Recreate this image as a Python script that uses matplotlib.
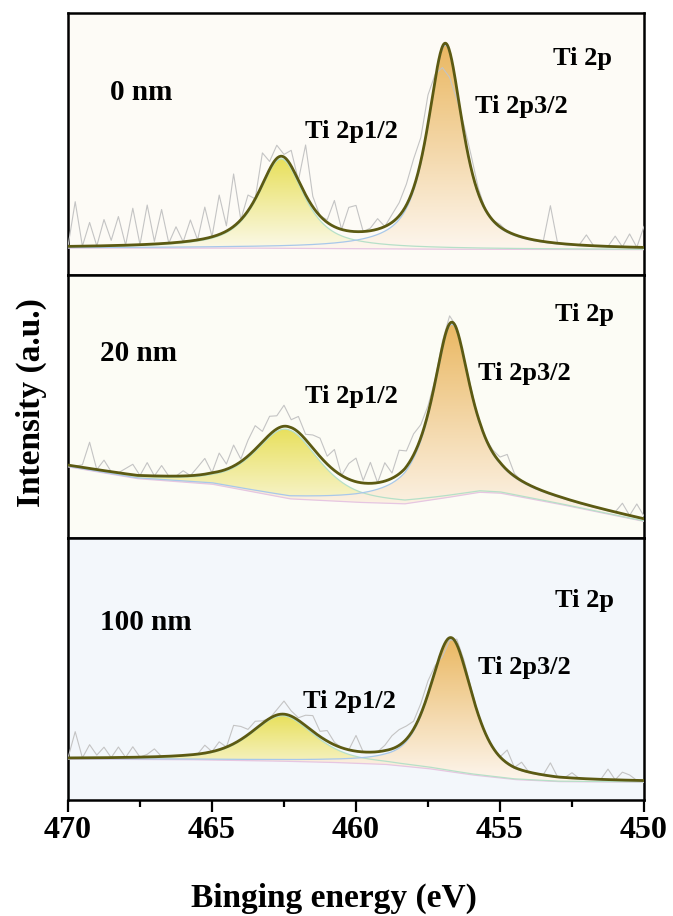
import numpy as np
import matplotlib
matplotlib.use("Agg")
import matplotlib.pyplot as plt
from matplotlib.ticker import MultipleLocator

plt.rcParams['font.family'] = 'Liberation Serif'
plt.rcParams['font.weight'] = 'bold'

# energy window and the 0.25 eV grid of the measured spectra
e_start, e_stop, e_step = 470.0, 450.0, 0.25

panel_names = ["0 nm", "20 nm", "100 nm"]
panel_colors = ["#fdfbf6", "#fcfcf5", "#f3f7fb"]

# fitted peaks per panel: centre (eV), height, FWHM (eV), lorentz fraction
p12_center = [462.60, 462.40, 462.55]
p12_height = [34.1, 26.3, 17.3]
p12_fwhm = [1.9, 2.6, 2.6]
p12_eta = [0.8, 0.6, 0.6]

p32_center = [456.90, 456.68, 456.70]
p32_height = [77.8, 65.8, 50.7]
p32_fwhm = [1.46, 1.6, 1.74]
p32_eta = [0.8, 0.9, 0.6]

# background read at a few energies
bg1_e = [470, 464, 461, 458, 455, 450]
bg1_v = [10.4, 10.4, 10.2, 10.0, 9.9, 9.8]
bg2_e = [470, 467.6, 465, 462.3, 460, 458.3, 457.0, 455.7, 455.0, 453.0, 450.0]
bg2_v = [27.0, 22.5, 20.4, 14.8, 13.5, 12.9, 15.0, 17.3, 17.0, 12.9, 6.2]
bg3_e = [470, 466, 463, 461, 459, 457.5, 456, 454.5, 453, 450]
bg3_v = [15.6, 15.4, 14.9, 14.4, 13.6, 12.0, 9.6, 7.8, 7.0, 6.8]

# raw counts minus fit, 470 -> 450 eV every 0.25 eV
raw1_res = [0, 17, 0, 9, 0, 10, 2, 11, 0, 14, 0, 15, 1, 13, 0, 6, 0, 8, 0, 12,
            0, 15, 2, 20, 0, 6, 0, 12, 3, 5, 1, 6, 0, 19, 4, 0, 1, 10, 0, 9,
            10, 0, 1, 4, 0, 3, 5, 8, 11, 9, 11, 2, -8, -10, -4, 3, 5, 2, 0, 0,
            1, 0, 0, 0, 0, 0, 0, 14, 0, 0, 0, 0, 4, 0, 0, 0, 4, 0, 5, 0, 8]
raw2_res = [0, 0, 1, 10, 0, 4, 0, 0, 2, 4, 0, 5, 0, 4, 0, 0, 2, 0, 3, 6,
            0, 7, 2, 8, 1, 6, 9, 4, 7, 5, 8, 3, 6, 2, 5, 7, 3, 8, 0, 6,
            9, 1, 8, 0, 7, 2, 9, 6, 8, 5, 3, 1, 2, 3, 1, 0, 1, -1, 0, 1,
            2, 6, 1, 0, 0, 0, 0, 0, 0, 0, 0, 0, 0, 0, 0, 0, 0, 4, 0, 5, 1]
raw3_res = [0, 10, 0, 5, 1, 4, 0, 4, 0, 4, 0, 1, 3, 0, 0, 0, 0, 0, 0, 3,
            0, 3, 0, 7, 5, 2, 3, 1, 0, 2, 5, 2, 1, 4, 6, 2, 4, 1, 0, 0,
            6, 0, 0, 0, 2, 5, 6, 5, 3, 4, 5, 2, -3, -1, 2, 2, 1, 0, 0, 0,
            0, 5, 0, 3, 0, 0, 0, 5, 0, 0, 2, 0, 0, 0, 0, 4, 0, 3, 2, 0, 0]

bg_e = [bg1_e, bg2_e, bg3_e]
bg_v = [bg1_v, bg2_v, bg3_v]
raw_res = [raw1_res, raw2_res, raw3_res]

# label positions (eV, intensity) per panel
name_pos = [(468.55, 66.7), (468.9, 67.2), (468.9, 64.9)]
ti2p_pos = [(453.15, 80.2), (453.1, 82.5), (453.1, 73.5)]
p32_pos = [(455.87, 62.0), (455.76, 60.2), (455.76, 47.9)]
p12_pos = [(461.77, 52.5), (461.77, 51.2), (461.84, 34.9)]


def pvoigt(x, c, h, w, eta):
    lor = 1.0 / (1.0 + (2.0 * (x - c) / w) ** 2)
    gau = np.exp(-4.0 * np.log(2) * ((x - c) / w) ** 2)
    return h * (eta * lor + (1 - eta) * gau)


def grad_fill(ax, x, lower, upper, top, bottom):
    poly = ax.fill_between(x, lower, upper, facecolor='none', edgecolor='none')
    t = np.linspace(0, 1, 256)[:, None, None]
    top = np.array(matplotlib.colors.to_rgb(top))
    bottom = np.array(matplotlib.colors.to_rgb(bottom))
    img = bottom + (top - bottom) * t
    im = ax.imshow(img, extent=(x.min(), x.max(), lower.min(), upper.max()),
                   origin='lower', aspect='auto', zorder=2, interpolation='bilinear')
    im.set_clip_path(poly.get_paths()[0], transform=ax.transData)


fig = plt.figure(figsize=(6.73, 9.16), dpi=100)
gs = fig.add_gridspec(3, 1, left=68 / 673, right=644 / 673,
                      top=1 - 13 / 916, bottom=1 - 800 / 916, hspace=0)

x_fine = np.linspace(e_start, e_stop, 801)
x_raw = np.arange(e_start, e_stop - 0.01, -e_step)

for k in range(3):
    ax = fig.add_subplot(gs[k])
    ax.set_facecolor(panel_colors[k])

    bg_f = np.interp(x_fine, bg_e[k][::-1], bg_v[k][::-1])
    a_f = pvoigt(x_fine, p12_center[k], p12_height[k], p12_fwhm[k], p12_eta[k])
    b_f = pvoigt(x_fine, p32_center[k], p32_height[k], p32_fwhm[k], p32_eta[k])
    env = bg_f + a_f + b_f

    bg_r = np.interp(x_raw, bg_e[k][::-1], bg_v[k][::-1])
    env_r = (bg_r + pvoigt(x_raw, p12_center[k], p12_height[k], p12_fwhm[k], p12_eta[k])
             + pvoigt(x_raw, p32_center[k], p32_height[k], p32_fwhm[k], p32_eta[k]))
    raw = env_r + np.array(raw_res[k])

    grad_fill(ax, x_fine, bg_f, bg_f + a_f, "#e8e05c", "#fbf9ea")
    grad_fill(ax, x_fine, bg_f, bg_f + b_f, "#eab862", "#fdf6ee")

    ax.plot(x_raw, raw, color="#c4c4c4", lw=0.8, zorder=3)
    ax.plot(x_fine, bg_f, color="#e6c6e2", lw=0.9, zorder=3)
    ax.plot(x_fine, bg_f + a_f, color="#b6e0c8", lw=0.9, zorder=3)
    ax.plot(x_fine, bg_f + b_f, color="#a8c8ea", lw=0.9, zorder=3)
    ax.plot(x_fine, env, color="#5c5a12", lw=2.0, zorder=4)

    ax.text(*name_pos[k], panel_names[k], fontsize=21, fontweight='bold', zorder=5)
    ax.text(*ti2p_pos[k], "Ti 2p", fontsize=19, fontweight='bold', zorder=5)
    ax.text(*p32_pos[k], "Ti 2p3/2", fontsize=19, fontweight='bold', zorder=5)
    ax.text(*p12_pos[k], "Ti 2p1/2", fontsize=19, fontweight='bold', zorder=5)

    ax.set_xlim(e_start, e_stop)
    ax.set_ylim(0, 100)
    ax.set_yticks([])
    for s in ax.spines.values():
        s.set_linewidth(1.8)
    if k < 2:
        ax.set_xticks([])
    else:
        ax.xaxis.set_major_locator(MultipleLocator(5))
        ax.xaxis.set_minor_locator(MultipleLocator(2.5))
        ax.tick_params(axis='x', which='major', direction='out', length=8.5,
                       width=1.6, labelsize=23, pad=3)
        ax.tick_params(axis='x', which='minor', direction='out', length=5, width=1.6)
        for lab in ax.get_xticklabels():
            lab.set_fontweight('bold')

fig.text(31 / 673, 1 - 403 / 916, "Intensity (a.u.)", rotation=90, fontsize=24,
         fontweight='bold', ha='center', va='center')
fig.text(334 / 673, 1 - 907 / 916, "Binging energy (eV)", fontsize=24,
         fontweight='bold', ha='center', va='baseline')

fig.savefig("out.png", dpi=100)
